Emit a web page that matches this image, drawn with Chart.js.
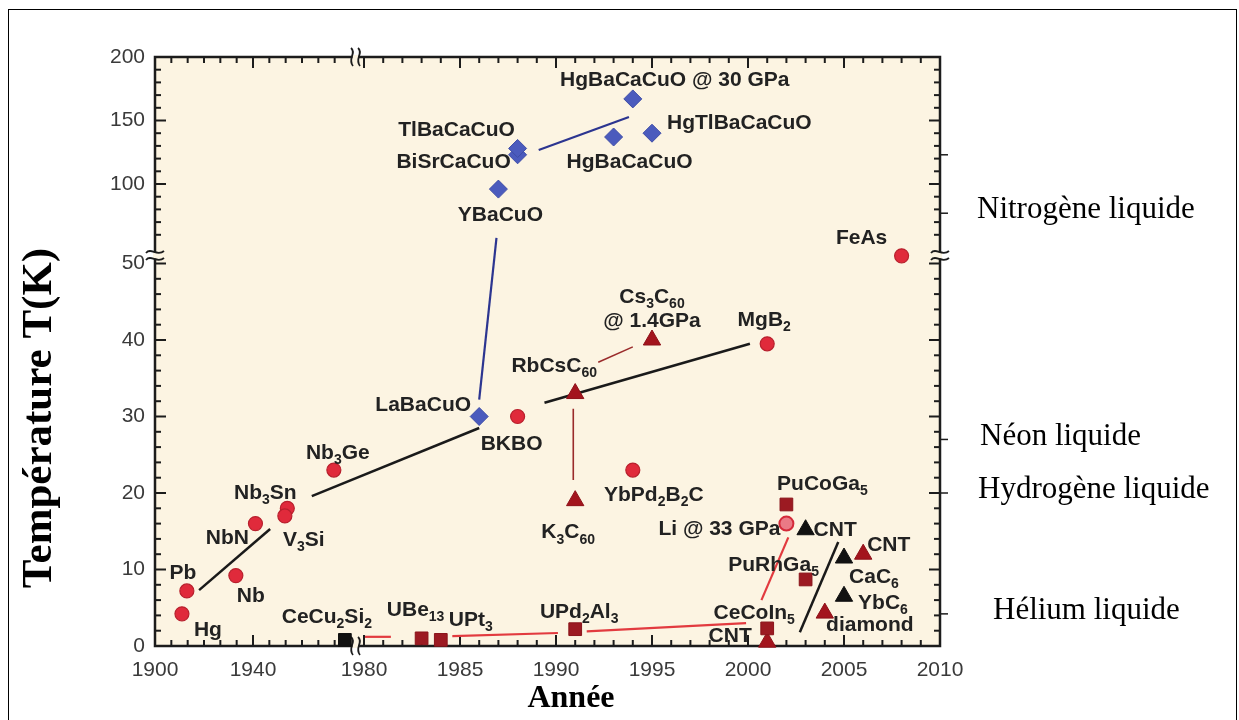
<!DOCTYPE html>
<html>
<head>
<meta charset="utf-8">
<script src="https://cdn.jsdelivr.net/npm/chart.js@4.4.1/dist/chart.umd.min.js"></script>
<style>
  html, body { margin: 0; padding: 0; background: #fff; }
  canvas { display: block; }
</style>
</head>
<body>
<canvas id="tcChart" width="1239" height="720"></canvas>
<script>
// ---- data (year of discovery, Tc in K) ----
const metalNames = ['Hg', 'Pb', 'Nb', 'NbN', 'Nb_3Sn', 'V_3Si', 'Nb_3Ge', 'BKBO', 'YbPd_2B_2C', 'MgB_2', 'FeAs'];
const metalYears = [1911, 1913, 1933, 1941, 1954, 1953, 1973, 1988, 1994, 2001, 2008];
const metalTc    = [4.2, 7.2, 9.2, 16, 18, 17, 23, 30, 23, 39.5, 51];

const liNames = ['Li @ 33 GPa'];
const liYears = [2002];
const liTc    = [16];

const cuprateNames = ['LaBaCuO', 'YBaCuO', 'BiSrCaCuO', 'TlBaCaCuO', 'HgBaCaCuO', 'HgTlBaCaCuO', 'HgBaCaCuO @ 30 GPa'];
const cuprateYears = [1986, 1987, 1988, 1988, 1993, 1995, 1994];
const cuprateTc    = [30, 96, 123, 128, 137, 140, 167];

const carbonNames = ['K_3C_60', 'RbCsC_60', 'Cs_3C_60\n@ 1.4GPa', 'CNT', 'diamond', 'CNT'];
const carbonYears = [1991, 1991, 1995, 2006, 2004, 2001];
const carbonTc    = [19, 33, 40, 12, 4.3, 0.5];

const graphiteNames = ['CNT', 'CaC_6', 'YbC_6'];
const graphiteYears = [2003, 2005, 2005];
const graphiteTc    = [15.2, 11.5, 6.5];

const fermionNames = ['UBe_13', 'UPt_3', 'UPd_2Al_3', 'CeCoIn_5', 'PuCoGa_5', 'PuRhGa_5'];
const fermionYears = [1983, 1984, 1991, 2001, 2002, 2003];
const fermionTc    = [1, 0.8, 2.2, 2.3, 18.5, 8.7];

const firstNames = ['CeCu_2Si_2'];
const firstYears = [1977.5];
const firstTc    = [0.8];

// guide lines of the figure, endpoints [start, end]
const blackLineYears  = [[1918, 1947], [1964, 1986], [1989.4, 2000.1], [2002.7, 2004.7]];
const blackLineTc     = [[7.3, 15.3], [19.6, 28.5], [31.8, 39.5], [1.8, 13.6]];
const blueLineYears   = [[1986.0, 1986.9], [1989.1, 1993.8]];
const blueLineTc      = [[32.2, 57.5], [126.8, 152.8]];
const fullerLineYears = [[1992.2, 1994.0], [1990.9, 1990.9]];
const fullerLineTc    = [[37.1, 39.1], [31, 21.7]];
const redLineYears    = [[1980.05, 1981.4], [1984.6, 1990.1], [1991.6, 1999.9], [2000.7, 2002.1]];
const redLineTc       = [[1.2, 1.2], [1.3, 1.7], [1.9, 3.0], [6, 14.2]];

// axis labels
const xTickYears = [1900, 1940, 1980, 1985, 1990, 1995, 2000, 2005, 2010];
const yTickValues = [0, 10, 20, 30, 40, 50, 100, 150, 200];
const liquidNames = ['Nitrogène liquide', 'Néon liquide', 'Hydrogène liquide', 'Hélium liquide'];
const liquidTemps = [77, 27, 20, 4.2];
const extraRightTicks = [123];

// ---- label placement (pixel offsets from the marker, align) ----
const metalLabelPos    = [[26, 16, 'c'], [-4, -18, 'c'], [15, 21, 'c'], [-28, 15, 'c'], [-22, -15, 'c'], [19, 24, 'c'],
                          [4, -17, 'c'], [-6, 28, 'c'], [21, 25, 'c'], [-3, -24, 'c'], [-40, -18, 'c']];
const liLabelPos       = [[-6, 6, 'r']];
const cuprateLabelPos  = [[-56, -11, 'c'], [2, 26, 'c'], [-64, 7, 'c'], [-61, -18, 'c'], [16, 25, 'c'], [15, -10, 'l'], [42, -19, 'c']];
const carbonLabelPos   = [[-7, 32, 'c'], [-21, -27, 'c'], [0, -43, 'c'], [4, -9, 'l'], [45, 12, 'c'], [-37, -6, 'c']];
const graphiteLabelPos = [[8, 0, 'l'], [30, 19, 'c'], [39, 7, 'c']];
const fermionLabelPos  = [[-6, -28, 'c'], [30, -20, 'c'], [4, -17, 'c'], [-13, -15, 'c'], [36, -20, 'c'], [-32, -14, 'c']];
const firstLabelPos    = [[-18, -23, 'c']];
const liquidLabelX     = [977, 980, 978, 993];

// ---- broken axes: map years / kelvins onto one linear scale ----
function xLeft(year) { return (year - 1900) * 2.45; }
function xRight(year) { return 209 + (year - 1980) * 19.2; }
function xPos(year) { return year < 1980 ? xLeft(year) : xRight(year); }
function yLower(t) { return t * 7.65; }
function yUpper(t) { return 462 + (t - 100) * 1.27; }
function yPos(t) { return t <= 52 ? yLower(t) : yUpper(t); }

function points(years, tc) {
    return years.map(function (y, i) { return { x: xPos(y), y: yPos(tc[i]) }; });
}

const bg = '#fcf4e2';
const ink = '#222';

function lineSets(yearsList, tcList, color, width) {
    return yearsList.map(function (years, i) {
        return {
            data: points(years, tcList[i]),
            showLine: true,
            borderColor: color,
            borderWidth: width,
            pointRadius: 0,
            clip: false,
            order: 10
        };
    });
}

function drawChem(ctx, text, x, y, align, size) {
    const parts = text.split(/(_\d+)/).filter(function (p) { return p.length; });
    const mainFont = 'bold ' + size + 'px "Liberation Sans", Arial, sans-serif';
    const subFont = 'bold ' + Math.round(size * 0.66) + 'px "Liberation Sans", Arial, sans-serif';
    let total = 0;
    const widths = [];
    parts.forEach(function (p) {
        const sub = p[0] === '_';
        ctx.font = sub ? subFont : mainFont;
        const w = ctx.measureText(sub ? p.slice(1) : p).width;
        widths.push(w);
        total += w;
    });
    let cx = align === 'l' ? x : (align === 'r' ? x - total : x - total / 2);
    ctx.textAlign = 'left';
    ctx.textBaseline = 'middle';
    parts.forEach(function (p, i) {
        const sub = p[0] === '_';
        ctx.font = sub ? subFont : mainFont;
        ctx.fillText(sub ? p.slice(1) : p, cx, sub ? y + 7 : y);
        cx += widths[i];
    });
}

const brokenAxes = {
    id: 'brokenAxes',
    beforeDraw(chart) {
        const ctx = chart.ctx, a = chart.chartArea;
        ctx.save();
        ctx.fillStyle = '#fff';
        ctx.fillRect(0, 0, chart.width, chart.height);
        ctx.strokeStyle = '#000';
        ctx.lineWidth = 1;
        ctx.strokeRect(8.5, 9.5, 1228, 740);
        ctx.fillStyle = bg;
        ctx.fillRect(a.left, a.top, a.right - a.left, a.bottom - a.top);
        ctx.restore();
    },
    beforeDatasetsDraw(chart) {
        const ctx = chart.ctx, a = chart.chartArea;
        const xs = chart.scales.x, ys = chart.scales.y;
        ctx.save();
        ctx.strokeStyle = '#1c1c1c';
        ctx.lineCap = 'butt';

        function seg(x1, y1, x2, y2) {
            ctx.beginPath(); ctx.moveTo(x1, y1); ctx.lineTo(x2, y2); ctx.stroke();
        }
        function xTick(u, len) {
            const x = xs.getPixelForValue(u);
            seg(x, a.bottom, x, a.bottom - len);
            seg(x, a.top, x, a.top + len);
        }
        function yTick(v, len) {
            const y = ys.getPixelForValue(v);
            seg(a.left, y, a.left + len, y);
            seg(a.right, y, a.right - len, y);
        }

        // ticks, pointing inward
        ctx.lineWidth = 2;
        for (let i = 1; i < 12; i++) xTick(xLeft(1900 + i * 40 / 6), i === 6 ? 11 : 6);
        for (let yr = 1980; yr < 2010; yr++) xTick(xRight(yr), yr % 5 === 0 ? 11 : 6);
        for (let t = 2; t <= 50; t += 2) yTick(yLower(t), t % 10 === 0 ? 11 : 6);
        for (let t = 60; t < 200; t += 10) yTick(yUpper(t), t % 50 === 0 ? 11 : 6);

        // outward marks on the right axis for the cryogenic liquids
        ctx.lineWidth = 1.5;
        liquidTemps.concat(extraRightTicks).forEach(function (t) {
            const y = ys.getPixelForValue(yPos(t));
            seg(a.right, y, a.right + 8, y);
        });

        // frame
        ctx.lineWidth = 2.5;
        ctx.strokeRect(a.left, a.top, a.right - a.left, a.bottom - a.top);

        // break marks
        const yb = (ys.getPixelForValue(yLower(50)) + ys.getPixelForValue(yUpper(50))) / 2;
        const xb = (xs.getPixelForValue(xLeft(1980)) + xs.getPixelForValue(xRight(1980))) / 2 - 2;
        ctx.fillStyle = bg;
        [a.left, a.right].forEach(function (x) { ctx.fillRect(x - 2, yb - 3, 4, 6); });
        [a.top, a.bottom].forEach(function (y) { ctx.fillRect(xb - 3, y - 2, 6, 4); });
        ctx.lineWidth = 1.8;
        [a.left, a.right].forEach(function (x) {
            [-3.5, 3.5].forEach(function (d) {
                ctx.beginPath();
                ctx.moveTo(x - 9, yb + d + 1);
                ctx.bezierCurveTo(x - 4, yb + d - 5, x + 2, yb + d + 5, x + 9, yb + d - 1);
                ctx.stroke();
            });
        });
        [a.top, a.bottom].forEach(function (y) {
            [-3.5, 3.5].forEach(function (d) {
                ctx.beginPath();
                ctx.moveTo(xb + d - 1, y - 9);
                ctx.bezierCurveTo(xb + d + 5, y - 4, xb + d - 5, y + 2, xb + d + 1, y + 9);
                ctx.stroke();
            });
        });
        ctx.restore();
    },
    afterDatasetsDraw(chart) {
        const ctx = chart.ctx;
        const xs = chart.scales.x, ys = chart.scales.y;
        ctx.save();
        ctx.fillStyle = ink;

        function labelSeries(names, years, tc, pos) {
            names.forEach(function (n, i) {
                const x = xs.getPixelForValue(xPos(years[i]));
                const y = ys.getPixelForValue(yPos(tc[i]));
                n.split('\n').forEach(function (line, k) {
                    drawChem(ctx, line, x + pos[i][0], y + pos[i][1] + k * 24, pos[i][2], 21);
                });
            });
        }
        labelSeries(metalNames, metalYears, metalTc, metalLabelPos);
        labelSeries(liNames, liYears, liTc, liLabelPos);
        labelSeries(cuprateNames, cuprateYears, cuprateTc, cuprateLabelPos);
        labelSeries(carbonNames, carbonYears, carbonTc, carbonLabelPos);
        labelSeries(graphiteNames, graphiteYears, graphiteTc, graphiteLabelPos);
        labelSeries(fermionNames, fermionYears, fermionTc, fermionLabelPos);
        labelSeries(firstNames, firstYears, firstTc, firstLabelPos);

        // liquids on the right
        ctx.fillStyle = '#000';
        ctx.font = '31px "Liberation Serif", "Times New Roman", serif';
        ctx.textAlign = 'left';
        ctx.textBaseline = 'middle';
        liquidNames.forEach(function (n, i) {
            ctx.fillText(n, liquidLabelX[i], ys.getPixelForValue(yPos(liquidTemps[i])) - 3);
        });

        // axis titles
        ctx.font = 'bold 32px "Liberation Serif", "Times New Roman", serif';
        ctx.textAlign = 'center';
        ctx.fillText('Année', 571, 699);
        ctx.translate(40, 418);
        ctx.rotate(-Math.PI / 2);
        ctx.font = 'bold 43px "Liberation Serif", "Times New Roman", serif';
        ctx.fillText('Température T(K)', 0, 0);
        ctx.restore();
    }
};

function createChart() {
    const tickFont = { family: '"Liberation Sans", Arial, sans-serif', size: 21 };
    const datasets = [
        { data: points(fermionYears, fermionTc), pointStyle: 'rect', pointRadius: 9,
          backgroundColor: '#9c1a22', borderColor: '#8a141b', borderWidth: 1, clip: false, order: 1 },
        { data: points(firstYears, firstTc), pointStyle: 'rect', pointRadius: 9,
          backgroundColor: '#111', borderColor: '#111', borderWidth: 1, clip: false, order: 1 },
        { data: points(metalYears, metalTc), pointStyle: 'circle', pointRadius: 7,
          backgroundColor: '#e02a3b', borderColor: '#b8202d', borderWidth: 1.2, clip: false, order: 2 },
        { data: points(liYears, liTc), pointStyle: 'circle', pointRadius: 7,
          backgroundColor: '#ea7a86', borderColor: '#d42a3a', borderWidth: 2, clip: false, order: 2 },
        { data: points(cuprateYears, cuprateTc), pointStyle: 'rectRot', pointRadius: 9,
          backgroundColor: '#4b5bbd', borderColor: '#3f4ea8', borderWidth: 1, clip: false, order: 2 },
        { data: points(carbonYears, carbonTc), pointStyle: 'triangle', pointRadius: 10,
          backgroundColor: '#a3141d', borderColor: '#8e1018', borderWidth: 1, clip: false, order: 3 },
        { data: points(graphiteYears, graphiteTc), pointStyle: 'triangle', pointRadius: 10,
          backgroundColor: '#111', borderColor: '#111', borderWidth: 1, clip: false, order: 3 }
    ].concat(
        lineSets(blackLineYears, blackLineTc, '#1a1a1a', 2.5),
        lineSets(blueLineYears, blueLineTc, '#2c3590', 2.2),
        lineSets(fullerLineYears, fullerLineTc, '#9a2b2b', 1.6),
        lineSets(redLineYears, redLineTc, '#e23a3f', 2.2)
    );

    new Chart(document.getElementById('tcChart').getContext('2d'), {
        type: 'scatter',
        data: { datasets: datasets },
        options: {
            responsive: false,
            animation: false,
            events: [],
            layout: { padding: { left: 0, top: 57, right: 299, bottom: 0 } },
            plugins: { legend: { display: false }, tooltip: { enabled: false } },
            scales: {
                x: {
                    type: 'linear', min: 0, max: 785,
                    grid: { display: false, drawTicks: false },
                    border: { display: false },
                    afterBuildTicks: function (s) { s.ticks = xTickYears.map(function (y) { return { value: xPos(y) }; }); },
                    afterFit: function (s) { s.height = 74; },
                    ticks: {
                        autoSkip: false, maxRotation: 0, padding: 12, color: '#3a3a3a', font: tickFont,
                        callback: function (v, i) { return String(xTickYears[i]); }
                    }
                },
                y: {
                    type: 'linear', min: 0, max: 589,
                    grid: { display: false, drawTicks: false },
                    border: { display: false },
                    afterBuildTicks: function (s) { s.ticks = yTickValues.map(function (t) { return { value: yPos(t) }; }); },
                    afterFit: function (s) { s.width = 155; },
                    ticks: {
                        autoSkip: false, padding: 10, color: '#3a3a3a', font: tickFont,
                        callback: function (v, i) { return String(yTickValues[i]); }
                    }
                }
            }
        },
        plugins: [brokenAxes]
    });
}

createChart();
</script>
</body>
</html>
